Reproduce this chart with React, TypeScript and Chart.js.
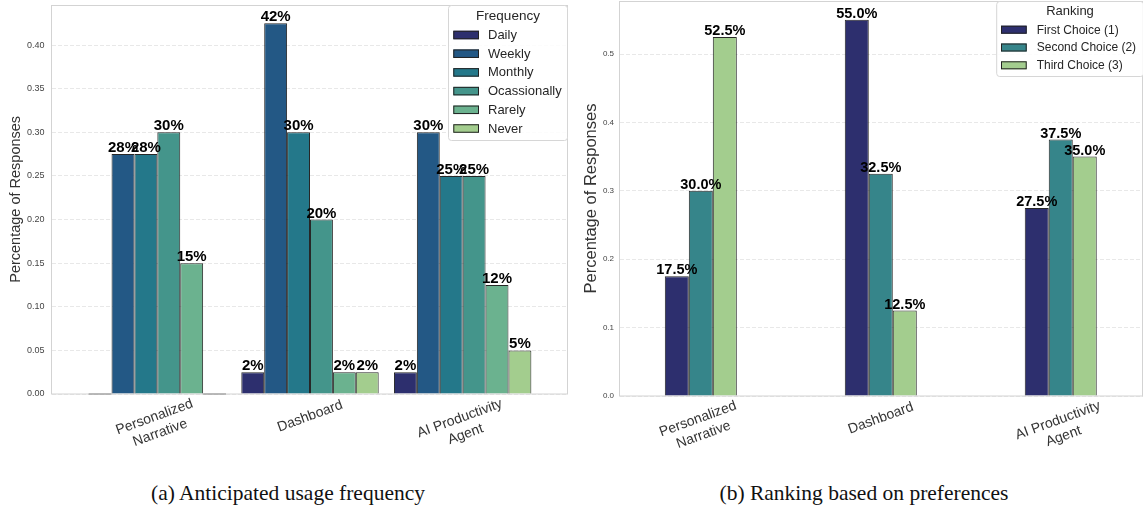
import React, { useEffect, useRef } from "react";
import { Chart, registerables } from "chart.js";

Chart.register(...registerables);

// ---------- (a) Anticipated usage frequency ----------
const FREQ_CATEGORIES: string[][] = [["Personalized", "Narrative"], ["Dashboard"], ["AI Productivity", "Agent"]];
const FREQ_LEVELS = ["Daily", "Weekly", "Monthly", "Ocassionally", "Rarely", "Never"];
const FREQ_DAILY = [0.0, 0.025, 0.025];
const FREQ_WEEKLY = [0.275, 0.425, 0.3];
const FREQ_MONTHLY = [0.275, 0.3, 0.25];
const FREQ_OCASSIONALLY = [0.3, 0.2, 0.25];
const FREQ_RARELY = [0.15, 0.025, 0.125];
const FREQ_NEVER = [0.0, 0.025, 0.05];
const FREQ_Y_TICKS = [0, 0.05, 0.1, 0.15, 0.2, 0.25, 0.3, 0.35, 0.4];

// ---------- (b) Ranking based on preferences ----------
const RANK_CATEGORIES: string[][] = [["Personalized", "Narrative"], ["Dashboard"], ["AI Productivity", "Agent"]];
const RANK_LEVELS = ["First Choice (1)", "Second Choice (2)", "Third Choice (3)"];
const RANK_FIRST = [0.175, 0.55, 0.275];
const RANK_SECOND = [0.3, 0.325, 0.375];
const RANK_THIRD = [0.525, 0.125, 0.35];
const RANK_Y_TICKS = [0, 0.1, 0.2, 0.3, 0.4, 0.5];

const FREQ_COLORS = ["#2d2f6e", "#235885", "#24788a", "#44958b", "#6bb28f", "#a3cd8e"];
const RANK_COLORS = ["#2d2f6e", "#36858a", "#a3cd8e"];

const SANS = '"Liberation Sans", Arial, "DejaVu Sans", sans-serif';
const SERIF = '"Liberation Serif", "DejaVu Serif", serif';

function pct0(v: number): string {
  const x = v * 100;
  const f = Math.floor(x);
  let r: number;
  if (Math.abs(x - f - 0.5) < 1e-9) r = f % 2 === 0 ? f : f + 1;
  else r = Math.round(x);
  return r + "%";
}
function pct1(v: number): string {
  return (v * 100).toFixed(1) + "%";
}

type LegendGeom = {
  box: [number, number, number, number];
  title: string;
  titleSize: number;
  titleX: number;
  titleY: number;
  rowY0: number;
  rowStep: number;
  patchX: number;
  patchW: number;
  patchH: number;
  textX: number;
  textSize: number;
};

type PanelSpec = {
  width: number;
  height: number;
  categories: string[][];
  names: string[];
  series: number[][];
  colors: string[];
  yTicks: number[];
  yMax: number;
  yDecimals: number;
  xMin: number;
  xMax: number;
  categoryPct: number;
  fmt: (v: number) => string;
  labelSize: number;
  area: { left: number; top: number; right: number; bottom: number };
  tickSize: number;
  tickPad: number;
  titleSize: number;
  titlePad: number;
  legend: LegendGeom;
};

function buildConfig(p: PanelSpec): any {
  const deg = (20 * Math.PI) / 180;

  const framePlugin = {
    id: "frame",
    beforeDatasetsDraw(chart: any) {
      const { ctx, chartArea: a } = chart;
      ctx.save();
      ctx.strokeStyle = "#d3d3d3";
      ctx.lineWidth = 1;
      ctx.strokeRect(
        Math.round(a.left) - 0.5,
        Math.round(a.top) + 0.5,
        Math.round(a.right - a.left),
        Math.round(a.bottom - a.top) - 0.5
      );
      ctx.restore();
    },
  };

  const barLabels = {
    id: "barLabels",
    afterDatasetsDraw(chart: any) {
      const ctx = chart.ctx;
      ctx.save();
      chart.data.datasets.forEach((ds: any, di: number) => {
        const meta = chart.getDatasetMeta(di);
        meta.data.forEach((bar: any, i: number) => {
          const v = ds.data[i].y;
          if (v === 0) {
            ctx.strokeStyle = "#9a9a9a";
            ctx.lineWidth = 1.2;
            ctx.beginPath();
            ctx.moveTo(bar.x - bar.width / 2, bar.base);
            ctx.lineTo(bar.x + bar.width / 2, bar.base);
            ctx.stroke();
            return;
          }
          ctx.font = `bold ${p.labelSize}px ${SANS}`;
          ctx.fillStyle = "#000";
          ctx.textAlign = "center";
          ctx.textBaseline = "alphabetic";
          ctx.fillText(p.fmt(v), bar.x, bar.y - 2);
        });
      });
      ctx.restore();
    },
  };

  const xLabels = {
    id: "xLabels",
    afterDraw(chart: any) {
      const ctx = chart.ctx;
      const xs = chart.scales.x;
      const bottom = chart.chartArea.bottom;
      const fs = 14;
      ctx.save();
      ctx.font = `${fs}px ${SANS}`;
      ctx.fillStyle = "#333";
      ctx.textAlign = "center";
      ctx.textBaseline = "middle";
      p.categories.forEach((lines, i) => {
        const x = xs.getPixelForValue(i);
        const W = Math.max(...lines.map((l) => ctx.measureText(l).width));
        const H = lines.length * fs;
        const hRot = W * Math.sin(deg) + H * Math.cos(deg);
        const cy = bottom + 4 + hRot / 2;
        ctx.save();
        ctx.translate(x, cy);
        ctx.rotate(-deg);
        const lh = fs * 1.2;
        lines.forEach((l, k) => ctx.fillText(l, 0, (k - (lines.length - 1) / 2) * lh));
        ctx.restore();
      });
      ctx.restore();
    },
  };

  const legendPlugin = {
    id: "boxLegend",
    afterDraw(chart: any) {
      const ctx = chart.ctx;
      const g = p.legend;
      const [bx, by, bw, bh] = g.box;
      ctx.save();
      ctx.fillStyle = "rgba(255,255,255,0.85)";
      ctx.strokeStyle = "#d6d6d6";
      ctx.lineWidth = 1;
      const r = 3;
      ctx.beginPath();
      ctx.moveTo(bx + r, by);
      ctx.lineTo(bx + bw - r, by);
      ctx.quadraticCurveTo(bx + bw, by, bx + bw, by + r);
      ctx.lineTo(bx + bw, by + bh - r);
      ctx.quadraticCurveTo(bx + bw, by + bh, bx + bw - r, by + bh);
      ctx.lineTo(bx + r, by + bh);
      ctx.quadraticCurveTo(bx, by + bh, bx, by + bh - r);
      ctx.lineTo(bx, by + r);
      ctx.quadraticCurveTo(bx, by, bx + r, by);
      ctx.closePath();
      ctx.fill();
      ctx.stroke();

      ctx.fillStyle = "#262626";
      ctx.textBaseline = "middle";
      ctx.textAlign = "center";
      ctx.font = `${g.titleSize}px ${SANS}`;
      ctx.fillText(g.title, g.titleX, g.titleY);
      ctx.textAlign = "left";
      ctx.font = `${g.textSize}px ${SANS}`;
      p.names.forEach((name, i) => {
        const y = g.rowY0 + i * g.rowStep;
        ctx.fillStyle = p.colors[i];
        ctx.fillRect(g.patchX, y - g.patchH / 2, g.patchW, g.patchH);
        ctx.strokeStyle = "#222";
        ctx.strokeRect(g.patchX + 0.5, y - g.patchH / 2 + 0.5, g.patchW - 1, g.patchH - 1);
        ctx.fillStyle = "#262626";
        ctx.fillText(name, g.textX, y + 0.5);
      });
      ctx.restore();
    },
  };

  return {
    type: "bar",
    data: {
      datasets: p.series.map((vals, i) => ({
        label: p.names[i],
        data: vals.map((v, j) => ({ x: j, y: v })),
        backgroundColor: p.colors[i],
        borderColor: "rgba(15,15,15,0.9)",
        borderWidth: 1,
        borderSkipped: "bottom",
        barPercentage: 1,
        categoryPercentage: p.categoryPct,
      })),
    },
    options: {
      animation: false,
      responsive: false,
      maintainAspectRatio: false,
      events: [],
      layout: {
        padding: {
          left: 0,
          top: p.area.top,
          right: p.width - p.area.right,
          bottom: p.height - p.area.bottom,
        },
      },
      plugins: {
        legend: { display: false },
        tooltip: { enabled: false },
        title: { display: false },
      },
      scales: {
        x: {
          type: "linear",
          display: false,
          min: p.xMin,
          max: p.xMax,
          offset: false,
          afterBuildTicks: (s: any) => {
            s.ticks = p.categories.map((_, i) => ({ value: i }));
          },
        },
        y: {
          type: "linear",
          min: 0,
          max: p.yMax,
          afterBuildTicks: (s: any) => {
            s.ticks = p.yTicks.map((v) => ({ value: v }));
          },
          afterFit: (s: any) => {
            s.width = p.area.left;
            s.paddingTop = 0;
            s.paddingBottom = 0;
          },
          ticks: {
            callback: (v: number) => Number(v).toFixed(p.yDecimals),
            color: "#444",
            font: { size: p.tickSize, family: SANS },
            padding: p.tickPad,
            autoSkip: false,
          },
          grid: { color: "#e2e2e2", lineWidth: 0.8, drawTicks: false, tickLength: 0 },
          border: { display: false, dash: [4, 2] },
          title: {
            display: true,
            text: "Percentage of Responses",
            color: "#333",
            font: { size: p.titleSize, family: SANS },
            padding: { top: p.titlePad, bottom: 0 },
          },
        },
      },
    },
    plugins: [framePlugin, barLabels, xLabels, legendPlugin],
  };
}

function Panel({ spec, left, top }: { spec: PanelSpec; left: number; top: number }) {
  const ref = useRef<HTMLCanvasElement | null>(null);
  useEffect(() => {
    if (!ref.current) return;
    const chart = new Chart(ref.current, buildConfig(spec));
    return () => chart.destroy();
  }, [spec]);
  return (
    <canvas
      ref={ref}
      width={spec.width}
      height={spec.height}
      style={{ position: "absolute", left, top, width: spec.width, height: spec.height }}
    />
  );
}

const FREQ_SPEC: PanelSpec = {
  width: 572,
  height: 470,
  categories: FREQ_CATEGORIES,
  names: FREQ_LEVELS,
  series: [FREQ_DAILY, FREQ_WEEKLY, FREQ_MONTHLY, FREQ_OCASSIONALLY, FREQ_RARELY, FREQ_NEVER],
  colors: FREQ_COLORS,
  yTicks: FREQ_Y_TICKS,
  yMax: 0.44625,
  yDecimals: 2,
  xMin: -0.69,
  xMax: 2.69,
  categoryPct: 0.9,
  fmt: pct0,
  labelSize: 15,
  area: { left: 52, top: 4.7, right: 568, bottom: 394 },
  tickSize: 9,
  tickPad: 7.5,
  titleSize: 14.5,
  titlePad: 7,
  legend: {
    box: [448.5, 5.5, 119, 135],
    title: "Frequency",
    titleSize: 13.5,
    titleX: 508,
    titleY: 16,
    rowY0: 35,
    rowStep: 18.7,
    patchX: 453.3,
    patchW: 25.7,
    patchH: 8.5,
    textX: 488,
    textSize: 13,
  },
};

const RANK_SPEC: PanelSpec = {
  width: 571,
  height: 470,
  categories: RANK_CATEGORIES,
  names: RANK_LEVELS,
  series: [RANK_FIRST, RANK_SECOND, RANK_THIRD],
  colors: RANK_COLORS,
  yTicks: RANK_Y_TICKS,
  yMax: 0.5775,
  yDecimals: 1,
  xMin: -0.449,
  xMax: 2.457,
  categoryPct: 0.4,
  fmt: pct1,
  labelSize: 14.5,
  area: { left: 48, top: 1, right: 571, bottom: 396 },
  tickSize: 8,
  tickPad: 6,
  titleSize: 16.5,
  titlePad: 9.5,
  legend: {
    box: [424.7, 1.5, 147, 75],
    title: "Ranking",
    titleSize: 13,
    titleX: 498,
    titleY: 11.7,
    rowY0: 29.7,
    rowStep: 17.8,
    patchX: 429,
    patchW: 25.7,
    patchH: 8,
    textX: 464.7,
    textSize: 12,
  },
};

export default function App() {
  const caption: React.CSSProperties = {
    position: "absolute",
    top: 480,
    width: 576,
    textAlign: "center",
    fontFamily: SERIF,
    fontSize: 21.5,
    lineHeight: "26px",
    color: "#111",
    whiteSpace: "nowrap",
  };
  return (
    <div
      style={{
        position: "absolute",
        left: 0,
        top: 0,
        width: 1143,
        height: 507,
        overflow: "hidden",
        background: "#fff",
      }}
    >
      <Panel spec={FREQ_SPEC} left={0} top={0} />
      <Panel spec={RANK_SPEC} left={572} top={0} />
      <div style={{ ...caption, left: 0 }}>(a) Anticipated usage frequency</div>
      <div style={{ ...caption, left: 576 }}>(b) Ranking based on preferences</div>
    </div>
  );
}
